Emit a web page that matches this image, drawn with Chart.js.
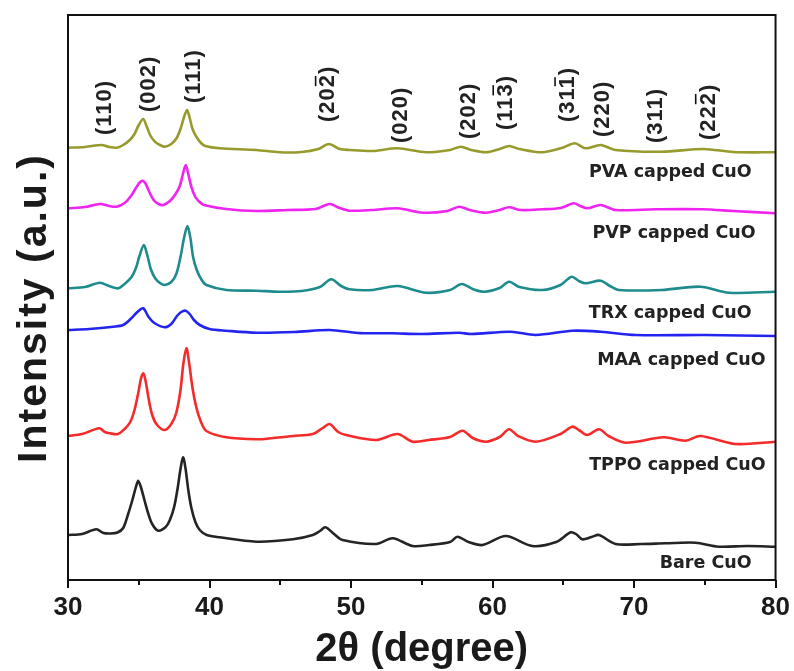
<!DOCTYPE html>
<html>
<head>
<meta charset="utf-8">
<script src="https://cdn.jsdelivr.net/npm/chart.js@4"></script>
<style>
  html, body { margin: 0; padding: 0; background: #fff; }
  #wrap { width: 794px; height: 671px; }
</style>
</head>
<body>
<div id="wrap"><canvas id="xrdChart" width="794" height="671"></canvas></div>
<script>
// XRD patterns, [2theta, intensity] pairs, already shifted up for stacking
const bareCuO = [
    [30, 65], [31, 66], [32.0, 70.7], [32.5, 67], [33.0, 66.5], [33.5, 67.5], [33.9, 72],
    [34.25, 86], [34.55, 100], [34.8, 113], [34.96, 119.3], [35.15, 113], [35.4, 100],
    [35.66, 87], [35.95, 76], [36.37, 69.3], [36.9, 73], [37.2, 80], [37.5, 93],
    [37.75, 112], [37.95, 131], [38.13, 142.7], [38.3, 132], [38.5, 110], [38.72, 92],
    [39.0, 78], [39.31, 70], [39.8, 65], [40.72, 62.7], [43.31, 58.3], [45.9, 60.7],
    [47.3, 65], [47.8, 69], [48.19, 72.7], [48.8, 66], [49.41, 60], [51.77, 56],
    [52.94, 61.7], [54.35, 54], [55.5, 55], [57.0, 58], [57.52, 63.3], [58.3, 58],
    [59.29, 55], [60.94, 64], [62.81, 54], [64.5, 58], [65.52, 67.7], [65.9, 66],
    [66.34, 60.7], [67.0, 63], [67.52, 65], [68.69, 56], [70.5, 56], [72.22, 56.7],
    [74.34, 57.3], [75.98, 53.3], [78, 54], [80, 53.3]
];
const tppoCuO = [
    [30, 164], [31, 166], [32.21, 171.7], [32.6, 168], [32.96, 166.7], [33.53, 166],
    [34.0, 171], [34.4, 178], [34.7, 190], [34.95, 206], [35.15, 221], [35.31, 226.7],
    [35.47, 220], [35.7, 201], [35.95, 185], [36.3, 175], [36.84, 170], [37.3, 176],
    [37.65, 187], [37.95, 210], [38.15, 236], [38.37, 251.7], [38.55, 238], [38.8, 212],
    [39.08, 192], [39.4, 178], [39.78, 169], [41.19, 162.7], [43.31, 160.7],
    [44.5, 162], [45.89, 164], [47.3, 166], [48.0, 172], [48.48, 176], [49.1, 168],
    [49.65, 165], [51.77, 160], [53.29, 166], [54.35, 158.3], [55.5, 160], [57.0, 163],
    [57.88, 169.3], [58.6, 162], [59.53, 158.3], [60.5, 163], [61.17, 170.7], [61.8, 164],
    [63.05, 158.3], [64.8, 166], [65.63, 173.3], [66.1, 170], [66.69, 165], [67.52, 170.7],
    [68.2, 164], [69.4, 157.3], [72.1, 162.7], [73.63, 159.3], [74.69, 164], [77.16, 156],
    [80, 158.3]
];
const maaCuO = [
    [30, 270], [31.5, 271], [33.2, 273.3], [33.9, 275], [34.5, 282], [34.9, 288],
    [35.31, 291.7], [35.7, 283], [36.1, 277], [36.84, 272.7], [37.3, 276], [37.7, 284],
    [38.0, 288], [38.32, 289.3], [38.6, 286], [38.9, 280], [39.31, 275], [40.0, 271],
    [41.19, 269.3], [43.31, 267.3], [46, 268], [48.5, 270], [50.5, 267], [52.92, 266.7],
    [55.0, 266], [57.64, 267.3], [58.5, 266], [61.29, 268.3], [63.05, 265], [65.63, 269.3],
    [67.64, 268.3], [70.11, 265], [75, 265], [80, 264]
];
const trxCuO = [
    [30, 311.7], [31.2, 313], [32.26, 317.3], [32.9, 314], [33.55, 311.7], [34.0, 316],
    [34.49, 323], [34.8, 332], [35.05, 344], [35.36, 355], [35.6, 345], [35.85, 331],
    [36.15, 322], [36.5, 317], [36.84, 315], [37.3, 318], [37.65, 326], [37.95, 343],
    [38.2, 362], [38.44, 374], [38.65, 362], [38.84, 343], [39.1, 330], [39.45, 320],
    [39.78, 315], [41.19, 310], [43.31, 309.3], [44.95, 308.3],
    [46.5, 309], [47.8, 313], [48.6, 320.7], [49.3, 314], [49.89, 310.7], [51.5, 310],
    [53.29, 314], [55.3, 307.3], [57.0, 310], [57.83, 316], [58.6, 311], [59.41, 308.3],
    [60.5, 312], [61.17, 318.3], [61.9, 313], [63.52, 310], [64.8, 315], [65.59, 323.3],
    [66.1, 319], [66.58, 316.7], [67.64, 319.3], [68.3, 314], [68.93, 310], [71.96, 310],
    [74.69, 313.3], [76.69, 307.3], [80, 308.3]
];
const pvpCuO = [
    [30, 391.7], [31.2, 393], [32.26, 396], [32.9, 394], [33.43, 393.3], [34.0, 397],
    [34.45, 404], [34.8, 412], [35.1, 418], [35.31, 419], [35.5, 416], [35.75, 408],
    [36.05, 400], [36.4, 396], [36.72, 395], [37.2, 399], [37.6, 406], [37.9, 414],
    [38.12, 426], [38.32, 435], [38.5, 426], [38.72, 413], [39.0, 403], [39.3, 398],
    [39.6, 395], [41.19, 391], [43.31, 389], [45.5, 390],
    [47.5, 391], [48.48, 396], [49.2, 392], [49.89, 389.3], [51.5, 390], [53.29, 391.7],
    [55.06, 387.3], [56.8, 389], [57.64, 393.3], [58.4, 390], [59.53, 387.3], [60.5, 390],
    [61.17, 392.7], [62.0, 390], [63.52, 390.7], [64.8, 392], [65.75, 396.7], [66.2, 394],
    [66.69, 391.7], [67.64, 395], [68.69, 390], [71.52, 390.7], [74.8, 390.7], [77, 389],
    [80, 386.7]
];
const pvaCuO = [
    [30, 452.3], [31.2, 453], [32.38, 455], [32.9, 453], [33.46, 452.3], [33.9, 455],
    [34.37, 460], [34.7, 466], [35.0, 475], [35.31, 481], [35.55, 474], [35.8, 465],
    [36.14, 458.3], [36.5, 455], [36.84, 453.3], [37.3, 456], [37.67, 461.7], [37.95, 471],
    [38.2, 483], [38.41, 490], [38.6, 482], [38.8, 471], [39.08, 463], [39.4, 457],
    [39.7, 454], [40.72, 451.7], [43.31, 450], [44.95, 447.7], [46.5, 448], [47.7, 451],
    [48.43, 456], [49.2, 451], [49.89, 450], [51.5, 449], [53.29, 451.7], [55.3, 447.7],
    [57.0, 450], [57.76, 453.3], [58.5, 450], [59.53, 447.7], [60.5, 451], [61.17, 454],
    [61.9, 451], [63.52, 447.7], [64.9, 452], [65.82, 456.7], [66.58, 451.7], [67.64, 455],
    [68.69, 450], [71.96, 448.3], [74.92, 451], [77, 448], [80, 447.7]
];

const sampleNames = ['Bare CuO', 'TPPO capped CuO', 'MAA capped CuO', 'TRX capped CuO', 'PVP capped CuO', 'PVA capped CuO'];
const patterns = [bareCuO, tppoCuO, maaCuO, trxCuO, pvpCuO, pvaCuO];
const lineColors = ['#242424', '#f52a2a', '#2424f0', '#1e8c8c', '#f024f0', '#979a2c'];
// where each sample name sits: right edge (2theta) and middle (intensity)
const nameAnchors = [[78.31, 37], [79.30, 135], [79.30, 240], [78.31, 287], [78.59, 367], [78.31, 428]];

// Miller indices of the CuO reflections; hklBar = index of the digit carrying a bar (-1 = none)
const hklLabels = ['(110)', '(002)', '(111)', '(202)', '(020)', '(202)', '(113)', '(311)', '(220)', '(311)', '(222)'];
const hklBar = [-1, -1, -1, 3, -1, -1, 3, 3, -1, -1, 3];
const hklTheta = [32.47, 35.57, 38.74, 48.27, 53.41, 58.21, 60.82, 65.19, 67.66, 71.40, 75.13];
const hklBase = [465, 488, 497, 478, 457, 461, 470, 478, 463, 457, 460];

const xTicks = [30, 40, 50, 60, 70, 80];

const decor = {
    id: 'decor',
    afterDraw(chart) {
        const { ctx, chartArea: a, scales: { x, y } } = chart;
        ctx.save();

        // box round the plot
        ctx.strokeStyle = '#111';
        ctx.lineWidth = 2;
        ctx.strokeRect(a.left, a.top, a.right - a.left, a.bottom - a.top);

        // minor ticks halfway between the labelled ones
        ctx.beginPath();
        for (let t = 35; t < 80; t += 10) {
            const px = Math.round(x.getPixelForValue(t));
            ctx.moveTo(px, a.bottom);
            ctx.lineTo(px, a.bottom + 5);
        }
        ctx.stroke();

        // sample names
        ctx.fillStyle = '#222';
        ctx.font = 'bold 17.5px "DejaVu Sans"';
        ctx.textAlign = 'right';
        ctx.textBaseline = 'middle';
        sampleNames.forEach((name, i) => {
            const [t, v] = nameAnchors[i];
            ctx.fillText(name, x.getPixelForValue(t), y.getPixelForValue(v));
        });

        // reflection labels, written upwards
        const fs = 22;
        ctx.font = `bold ${fs}px "Liberation Sans", Arial, sans-serif`;
        ctx.letterSpacing = '1px';
        ctx.textAlign = 'left';
        ctx.textBaseline = 'alphabetic';
        const capH = fs * 0.72;
        hklLabels.forEach((lbl, i) => {
            ctx.save();
            ctx.translate(x.getPixelForValue(hklTheta[i]), y.getPixelForValue(hklBase[i]));
            ctx.rotate(-Math.PI / 2);
            ctx.fillText(lbl, 0, capH / 2);
            if (hklBar[i] >= 0) {
                const x0 = ctx.measureText(lbl.slice(0, hklBar[i])).width;
                const x1 = ctx.measureText(lbl.slice(0, hklBar[i] + 1)).width;
                ctx.lineWidth = 1.6;
                ctx.beginPath();
                ctx.moveTo(x0 + 1, -capH / 2 - 3);
                ctx.lineTo(x1 - 2, -capH / 2 - 3);
                ctx.stroke();
            }
            ctx.restore();
        });
        ctx.letterSpacing = '0px';

        // y axis title
        ctx.save();
        ctx.translate(35, 308);
        ctx.rotate(-Math.PI / 2);
        ctx.font = 'bold 41px "Liberation Sans", Arial, sans-serif';
        ctx.letterSpacing = '2px';
        ctx.textAlign = 'center';
        ctx.textBaseline = 'middle';
        ctx.fillStyle = '#1a1a1a';
        ctx.fillText('Intensity (a.u.)', 0, 0);
        ctx.restore();

        ctx.restore();
    }
};

const ctx = document.getElementById('xrdChart').getContext('2d');
new Chart(ctx, {
    type: 'scatter',
    data: {
        datasets: patterns.map((p, i) => ({
            label: sampleNames[i],
            data: p.map(([t, v]) => ({ x: t, y: v })),
            showLine: true,
            borderColor: lineColors[i],
            borderWidth: 2.6,
            pointRadius: 0,
            tension: 0.3
        }))
    },
    options: {
        responsive: false,
        animation: false,
        layout: { padding: { left: 68, right: 17, top: 15, bottom: 0 } },
        plugins: { legend: { display: false }, tooltip: { enabled: false } },
        scales: {
            x: {
                type: 'linear',
                min: 30,
                max: 80,
                afterFit: s => { s.height = 91; },
                afterBuildTicks: s => { s.ticks = xTicks.map(v => ({ value: v })); },
                border: { display: false },
                grid: { drawOnChartArea: false, tickLength: 8, color: '#111', lineWidth: 2 },
                ticks: {
                    padding: 4,
                    color: '#1a1a1a',
                    font: { family: '"Liberation Sans Narrow", "Liberation Sans", Arial', size: 26, weight: 'bold' }
                },
                title: {
                    display: true,
                    text: '2θ (degree)',
                    color: '#1a1a1a',
                    padding: { top: 0, bottom: 1 },
                    font: { family: '"Liberation Sans", Arial', size: 40, weight: 'bold', lineHeight: 1 }
                }
            },
            y: {
                display: false,
                min: 20,
                max: 585
            }
        }
    },
    plugins: [decor]
});
</script>
</body>
</html>
